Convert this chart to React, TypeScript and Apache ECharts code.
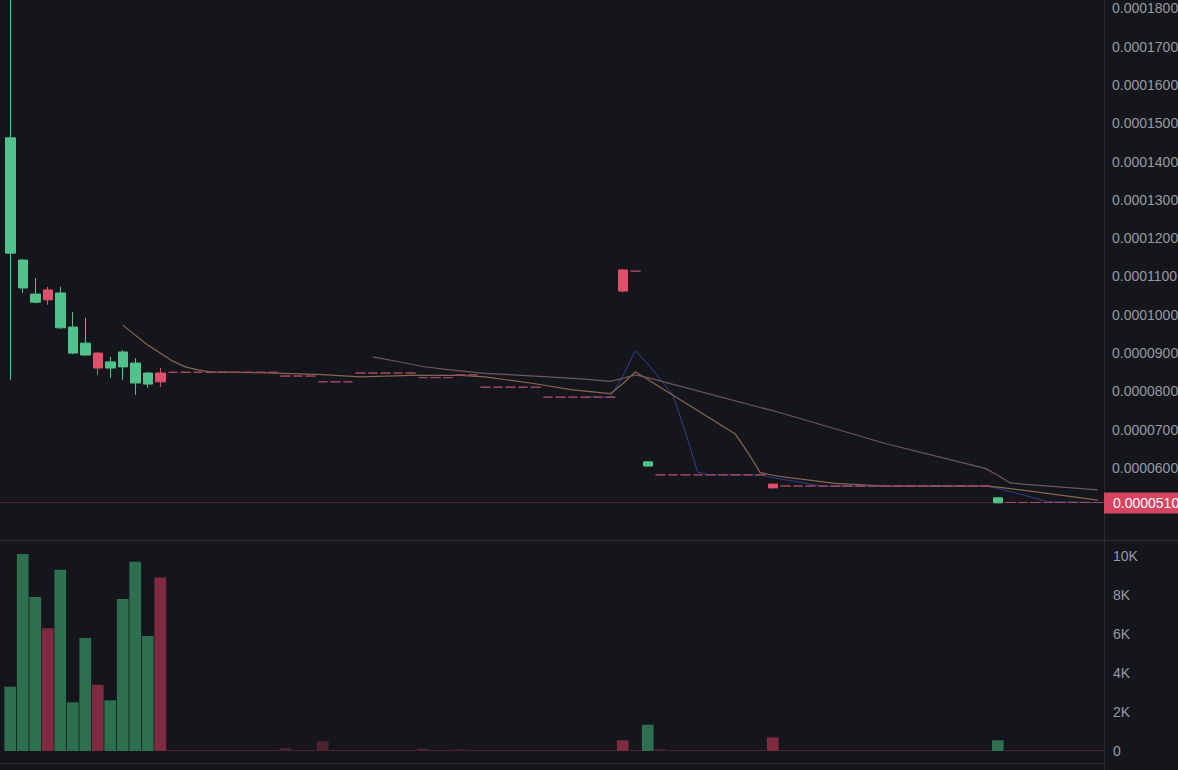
import React, { useEffect, useRef } from "react";
import * as echarts from "echarts";

// ---- candle data (one slot per bar, 88 slots) ----
const opens = [
  1.161e-4, 1.07e-4, 1.033e-4, 1.065e-4, 9.66e-5, 9.0e-5, 8.95e-5, 9.0e-5, 8.61e-5, 8.64e-5,
  8.22e-5, 8.19e-5, 8.48e-5, 8.5e-5, 8.5e-5, 8.5e-5, 8.5e-5, 8.5e-5, 8.5e-5, 8.5e-5,
  8.5e-5, 8.5e-5, 8.4e-5, 8.4e-5, 8.4e-5, 8.25e-5, 8.25e-5, 8.25e-5, 8.48e-5, 8.48e-5,
  8.48e-5, 8.48e-5, 8.48e-5, 8.36e-5, 8.36e-5, 8.36e-5, 8.43e-5, 8.43e-5, 8.11e-5, 8.11e-5,
  8.11e-5, 8.11e-5, 8.11e-5, 7.85e-5, 7.85e-5, 7.85e-5, 7.85e-5, 7.85e-5, 7.85e-5, 1.117e-4,
  1.114e-4, 6.05e-5, 5.82e-5, 5.82e-5, 5.82e-5, 5.82e-5, 5.82e-5, 5.82e-5, 5.82e-5, 5.82e-5,
  5.82e-5, 5.58e-5, 5.53e-5, 5.53e-5, 5.53e-5, 5.53e-5, 5.53e-5, 5.53e-5, 5.53e-5, 5.53e-5,
  5.53e-5, 5.53e-5, 5.53e-5, 5.53e-5, 5.53e-5, 5.53e-5, 5.53e-5, 5.53e-5, 5.53e-5, 5.09e-5,
  5.1e-5, 5.1e-5, 5.1e-5, 5.1e-5, 5.1e-5, 5.1e-5, 5.1e-5, 5.1e-5,
];
const closes = [
  1.462e-4, 1.143e-4, 1.054e-4, 1.039e-4, 1.057e-4, 9.68e-5, 9.26e-5, 8.61e-5, 8.77e-5, 9.03e-5,
  8.74e-5, 8.48e-5, 8.25e-5, 8.5e-5, 8.5e-5, 8.5e-5, 8.5e-5, 8.5e-5, 8.5e-5, 8.5e-5,
  8.5e-5, 8.5e-5, 8.4e-5, 8.4e-5, 8.4e-5, 8.25e-5, 8.25e-5, 8.25e-5, 8.48e-5, 8.48e-5,
  8.48e-5, 8.48e-5, 8.48e-5, 8.36e-5, 8.36e-5, 8.36e-5, 8.43e-5, 8.43e-5, 8.11e-5, 8.11e-5,
  8.11e-5, 8.11e-5, 8.11e-5, 7.85e-5, 7.85e-5, 7.85e-5, 7.85e-5, 7.85e-5, 7.85e-5, 1.062e-4,
  1.114e-4, 6.16e-5, 5.82e-5, 5.82e-5, 5.82e-5, 5.82e-5, 5.82e-5, 5.82e-5, 5.82e-5, 5.82e-5,
  5.82e-5, 5.48e-5, 5.53e-5, 5.53e-5, 5.53e-5, 5.53e-5, 5.53e-5, 5.53e-5, 5.53e-5, 5.53e-5,
  5.53e-5, 5.53e-5, 5.53e-5, 5.53e-5, 5.53e-5, 5.53e-5, 5.53e-5, 5.53e-5, 5.53e-5, 5.22e-5,
  5.1e-5, 5.1e-5, 5.1e-5, 5.1e-5, 5.1e-5, 5.1e-5, 5.1e-5, 5.1e-5,
];
const lows = [
  8.3e-5, 1.057e-4, 1.03e-4, 1.026e-4, 9.63e-5, 8.97e-5, 8.93e-5, 8.43e-5, 8.35e-5, 8.3e-5,
  7.91e-5, 8.09e-5, 8.11e-5, 8.5e-5, 8.5e-5, 8.5e-5, 8.5e-5, 8.5e-5, 8.5e-5, 8.5e-5,
  8.5e-5, 8.5e-5, 8.4e-5, 8.4e-5, 8.4e-5, 8.25e-5, 8.25e-5, 8.25e-5, 8.48e-5, 8.48e-5,
  8.48e-5, 8.48e-5, 8.48e-5, 8.36e-5, 8.36e-5, 8.36e-5, 8.43e-5, 8.43e-5, 8.11e-5, 8.11e-5,
  8.11e-5, 8.11e-5, 8.11e-5, 7.85e-5, 7.85e-5, 7.85e-5, 7.85e-5, 7.85e-5, 7.85e-5, 1.058e-4,
  1.114e-4, 6.04e-5, 5.82e-5, 5.82e-5, 5.82e-5, 5.82e-5, 5.82e-5, 5.82e-5, 5.82e-5, 5.82e-5,
  5.82e-5, 5.47e-5, 5.53e-5, 5.53e-5, 5.53e-5, 5.53e-5, 5.53e-5, 5.53e-5, 5.53e-5, 5.53e-5,
  5.53e-5, 5.53e-5, 5.53e-5, 5.53e-5, 5.53e-5, 5.53e-5, 5.53e-5, 5.53e-5, 5.53e-5, 5.08e-5,
  5.1e-5, 5.1e-5, 5.1e-5, 5.1e-5, 5.1e-5, 5.1e-5, 5.1e-5, 5.1e-5,
];
const highs = [
  1.86e-4, 1.145e-4, 1.096e-4, 1.073e-4, 1.073e-4, 1.007e-4, 9.92e-5, 9.02e-5, 8.9e-5, 9.08e-5,
  8.87e-5, 8.5e-5, 8.61e-5, 8.5e-5, 8.5e-5, 8.5e-5, 8.5e-5, 8.5e-5, 8.5e-5, 8.5e-5,
  8.5e-5, 8.5e-5, 8.4e-5, 8.4e-5, 8.4e-5, 8.25e-5, 8.25e-5, 8.25e-5, 8.48e-5, 8.48e-5,
  8.48e-5, 8.48e-5, 8.48e-5, 8.36e-5, 8.36e-5, 8.36e-5, 8.43e-5, 8.43e-5, 8.11e-5, 8.11e-5,
  8.11e-5, 8.11e-5, 8.11e-5, 7.85e-5, 7.85e-5, 7.85e-5, 7.85e-5, 7.85e-5, 7.85e-5, 1.12e-4,
  1.114e-4, 6.17e-5, 5.82e-5, 5.82e-5, 5.82e-5, 5.82e-5, 5.82e-5, 5.82e-5, 5.82e-5, 5.82e-5,
  5.82e-5, 5.59e-5, 5.53e-5, 5.53e-5, 5.53e-5, 5.53e-5, 5.53e-5, 5.53e-5, 5.53e-5, 5.53e-5,
  5.53e-5, 5.53e-5, 5.53e-5, 5.53e-5, 5.53e-5, 5.53e-5, 5.53e-5, 5.53e-5, 5.53e-5, 5.23e-5,
  5.1e-5, 5.1e-5, 5.1e-5, 5.1e-5, 5.1e-5, 5.1e-5, 5.1e-5, 5.1e-5,
];
const volumes = [
  3300, 10100, 7900, 6300, 9300, 2500, 5800, 3400, 2600, 7800,
  9700, 5900, 8900, 50, 50, 50, 50, 50, 50, 50,
  50, 50, 150, 50, 50, 500, 50, 50, 50, 50,
  50, 50, 50, 120, 50, 50, 80, 50, 50, 50,
  50, 50, 50, 50, 50, 50, 50, 50, 50, 550,
  50, 1350, 100, 50, 50, 50, 50, 50, 50, 50,
  50, 700, 50, 50, 50, 50, 50, 50, 50, 50,
  50, 50, 50, 50, 50, 50, 50, 50, 50, 550,
  50, 50, 50, 50, 50, 50, 50, 50,
];

// ---- moving-average lines, read at their bend points: [slot, value] ----
const ma5 = [
  [46, 7.86e-5], [48, 7.85e-5], [49, 8.4e-5], [50, 9.06e-5], [51, 8.72e-5], [52, 8.32e-5],
  [53, 7.91e-5], [54, 6.95e-5], [55, 5.89e-5], [56, 5.82e-5], [60, 5.82e-5], [61, 5.75e-5],
  [62, 5.69e-5], [63, 5.64e-5], [64, 5.58e-5], [65, 5.52e-5], [78, 5.53e-5], [79, 5.47e-5],
  [80, 5.38e-5], [81, 5.3e-5], [82, 5.21e-5], [83, 5.12e-5], [87, 5.1e-5],
];
const ma10 = [
  [9, 9.73e-5], [10, 9.47e-5], [11, 9.21e-5], [12, 9.0e-5], [13, 8.79e-5], [14, 8.64e-5],
  [15, 8.56e-5], [16, 8.51e-5], [20, 8.49e-5], [25, 8.44e-5], [28, 8.38e-5], [32, 8.42e-5],
  [36, 8.42e-5], [38, 8.38e-5], [42, 8.2e-5], [45, 8.04e-5], [48, 7.94e-5], [49, 8.2e-5],
  [50, 8.51e-5], [51, 8.31e-5], [58, 6.89e-5], [59, 6.41e-5], [60, 5.88e-5], [61, 5.81e-5],
  [62, 5.76e-5], [66, 5.6e-5], [70, 5.53e-5], [78, 5.53e-5], [79, 5.5e-5], [80, 5.46e-5],
  [81, 5.42e-5], [87, 5.16e-5],
];
const ma30 = [
  [29, 8.9e-5], [31, 8.78e-5], [33, 8.65e-5], [35, 8.57e-5], [38, 8.47e-5], [42, 8.4e-5],
  [46, 8.32e-5], [48, 8.26e-5], [49, 8.34e-5], [50, 8.43e-5], [51, 8.36e-5], [60, 7.58e-5],
  [61, 7.5e-5], [70, 6.64e-5], [78, 5.99e-5], [79, 5.81e-5], [80, 5.61e-5], [81, 5.58e-5],
  [87, 5.43e-5],
];

const UP = "#52c28c";
const DOWN = "#e0506b";
const VOL_UP = "#2d6f4f";
const VOL_DOWN = "#7e2a41";
const VOL_FLAT = "#4f2231";

// place the read points on the slot axis; gaps are bridged by the line itself
function onSlots(points: number[][]): (number | null)[] {
  const out: (number | null)[] = opens.map(() => null);
  points.forEach(([slot, value]) => {
    out[slot] = value;
  });
  return out;
}

export default function App() {
  const ref = useRef<HTMLDivElement>(null);

  useEffect(() => {
    const chart = echarts.init(ref.current!, null, { renderer: "svg" });
    const candles = opens.map((o, i) => [o, closes[i], lows[i], highs[i]]);
    const vols = volumes.map((v, i) => ({
      value: v,
      itemStyle: {
        color:
          closes[i] > opens[i] ? VOL_UP : closes[i] < opens[i] ? VOL_DOWN : VOL_FLAT,
      },
    }));
    const lastPrice = closes[closes.length - 1];
    const sepColor = "#2a2b31";
    const labelColor = "#979aa2";
    const font = "Liberation Sans, Arial, sans-serif";
    const plotRight = 1104;
    const lineBase = {
      type: "line",
      xAxisIndex: 0,
      yAxisIndex: 0,
      showSymbol: false,
      connectNulls: true,
      z: 3,
    };
    const separators = [
      {
        type: "line",
        shape: { x1: plotRight + 0.5, y1: 0, x2: plotRight + 0.5, y2: 770 },
        style: { stroke: sepColor, lineWidth: 1 },
        z: 1,
      },
      {
        type: "line",
        shape: { x1: 0, y1: 540.5, x2: 1178, y2: 540.5 },
        style: { stroke: sepColor, lineWidth: 1.5 },
        z: 1,
      },
      {
        type: "line",
        shape: { x1: 0, y1: 763.5, x2: plotRight, y2: 763.5 },
        style: { stroke: sepColor, lineWidth: 1 },
        z: 1,
      },
    ];

    chart.setOption({
      animation: false,
      backgroundColor: "#15161b",
      grid: [
        { left: 4, right: 1178 - plotRight, top: 0, height: 544.6, outerBoundsMode: "none", containLabel: false },
        { left: 4, right: 1178 - plotRight, top: 541, height: 210, outerBoundsMode: "none", containLabel: false },
      ],
      xAxis: [
        {
          type: "category",
          gridIndex: 0,
          axisLine: { show: false },
          axisTick: { show: false },
          axisLabel: { show: false },
          splitLine: { show: false },
        },
        {
          type: "category",
          gridIndex: 1,
          axisLine: { show: false },
          axisTick: { show: false },
          axisLabel: { show: false },
          splitLine: { show: false },
        },
      ],
      yAxis: [
        {
          type: "value",
          gridIndex: 0,
          position: "right",
          min: 0.00004,
          max: 0.00018219,
          interval: 0.00001,
          axisLine: { show: false },
          axisTick: { show: false },
          splitLine: { show: false },
          axisLabel: {
            margin: 8,
            color: labelColor,
            fontSize: 14,
            fontFamily: font,
            formatter: (v: number) =>
              v < 0.000055 || v > 0.0001805 ? "" : v.toFixed(7),
          },
        },
        {
          type: "value",
          gridIndex: 1,
          position: "right",
          min: 0,
          max: 10770,
          interval: 2000,
          axisLine: { show: false },
          axisTick: { show: false },
          splitLine: { show: false },
          axisLabel: {
            margin: 9,
            color: labelColor,
            fontSize: 14,
            fontFamily: font,
            formatter: (v: number) =>
              v > 10000 ? "" : v === 0 ? "0" : v / 1000 + "K",
          },
        },
      ],
      series: [
        {
          type: "bar",
          xAxisIndex: 1,
          yAxisIndex: 1,
          data: vols,
          barCategoryGap: "6%",
        },
        { ...lineBase, data: onSlots(ma5), lineStyle: { color: "#303f8e", width: 1 } },
        { ...lineBase, data: onSlots(ma10), lineStyle: { color: "#86684f", width: 1.2 } },
        { ...lineBase, data: onSlots(ma30), lineStyle: { color: "#70575c", width: 1.2 } },
        {
          type: "candlestick",
          xAxisIndex: 0,
          yAxisIndex: 0,
          data: candles,
          barWidth: 10,
          clip: false,
          z: 4,
          itemStyle: {
            color: UP,
            color0: DOWN,
            borderColor: UP,
            borderColor0: DOWN,
            borderColorDoji: "#a54a60",
            borderWidth: 1,
          },
        },
      ],
      graphic: separators,
    });

    // last-price line and tag, placed through the price axis scale
    const yPx = chart.convertToPixel({ yAxisIndex: 0 }, lastPrice) as number;
    chart.setOption({
      graphic: [
        ...separators,
        {
          type: "line",
          shape: { x1: 0, y1: yPx, x2: plotRight, y2: yPx },
          style: { stroke: "#48232e", lineWidth: 1 },
          z: 1,
        },
        {
          type: "rect",
          shape: { x: plotRight, y: yPx - 10, width: 1178 - plotRight, height: 21 },
          style: { fill: "#d6445f" },
          z: 10,
        },
        {
          type: "text",
          x: plotRight + 9,
          y: yPx + 0.5,
          style: {
            text: lastPrice.toFixed(7),
            fill: "#ffffff",
            font: `14px ${font}`,
            verticalAlign: "middle",
            align: "left",
          },
          z: 11,
        },
      ],
    });

    return () => chart.dispose();
  }, []);

  return (
    <div
      ref={ref}
      style={{ position: "fixed", left: 0, top: 0, width: 1178, height: 770 }}
    />
  );
}
